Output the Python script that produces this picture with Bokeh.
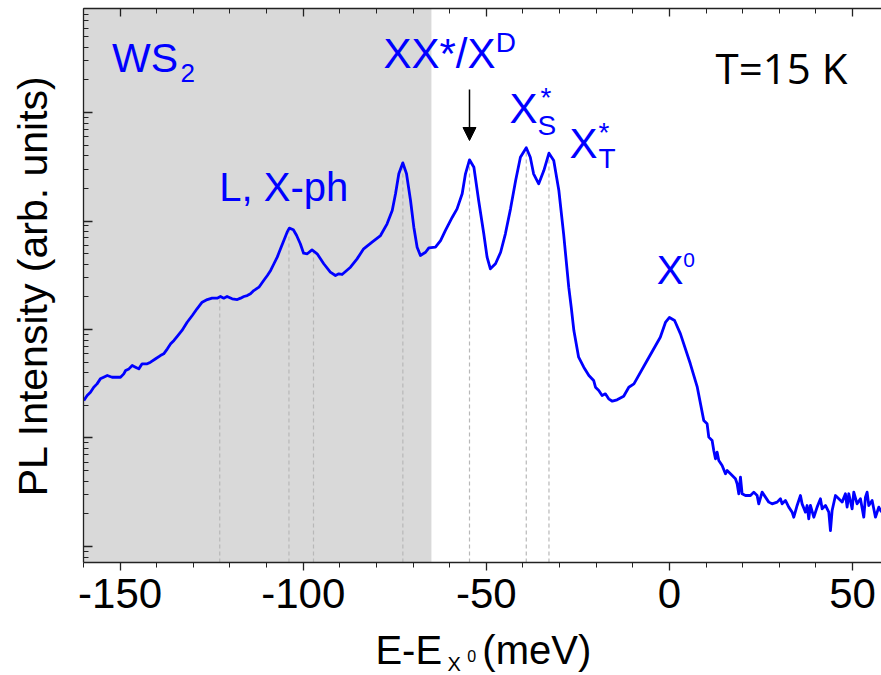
import numpy as np
from bokeh.plotting import figure
from bokeh.layouts import column
from bokeh.models import (Range1d, FixedTicker, LinearAxis, BoxAnnotation, Label,
                          Arrow, NormalHead)
from bokeh.core.properties import value
from bokeh.embed import file_html
from bokeh.resources import INLINE

# ---------------- data ----------------
# energy relative to the neutral exciton, meV
energy = [
    -159.9, -159.0, -158.1, -157.2, -156.3, -155.4, -154.5, -153.5, -152.2, -151.3,
    -149.9, -149.0, -148.5, -147.6, -146.7, -145.8, -144.9, -144.0, -142.6, -141.7,
    -140.3, -139.0, -138.1, -137.1, -136.2, -135.3, -134.4, -133.1, -131.7, -130.3,
    -129.0, -127.6, -126.2, -124.9, -123.5, -122.6, -121.7, -120.8, -119.4, -118.0,
    -117.1, -116.2, -115.3, -114.4, -113.5, -112.1, -110.8, -109.8, -108.9, -108.0,
    -107.1, -106.2, -105.3, -104.4, -103.8, -102.7, -101.8, -100.8, -99.9, -98.9,
    -97.6, -96.2, -94.4, -92.6, -91.2, -90.3, -89.4, -87.1, -85.3, -83.5,
    -81.2, -78.9, -77.1, -75.7, -74.8, -73.9, -72.8, -71.8, -70.7, -69.8,
    -68.9, -68.0, -66.6, -65.7, -63.9, -62.5, -61.2, -59.3, -58.0, -56.6,
    -55.7, -54.6, -53.4, -52.1, -50.7, -49.8, -48.9, -47.5, -46.1, -44.8,
    -43.4, -42.0, -40.7, -39.1, -38.0, -37.1, -35.7, -34.3, -32.9, -31.6,
    -30.2, -28.9, -27.5, -26.8, -26.1, -24.8, -23.4, -22.0, -20.7, -20.2,
    -19.3, -18.4, -17.5, -16.6, -15.6, -14.3, -12.5, -11.1, -9.7, -6.1,
    -2.5, -1.1, 0.0, 1.4, 3.0, 5.7, 7.6, 9.37, 10.28, 10.74,
    11.65, 12.1, 12.56, 13.02, 13.47, 14.38, 15.29, 15.75, 16.66, 18.02,
    18.48, 18.93, 19.39, 19.84, 20.75, 22.12, 23.03, 23.94, 24.39, 25.3,
    26.21, 27.12, 28.03, 29.4, 30.31, 30.76, 31.67, 32.58, 33.49, 33.95,
    34.86, 35.77, 36.22, 37.13, 37.59, 38.04, 38.5, 39.41, 40.32, 41.23,
    41.69, 42.6, 43.51, 43.96, 44.42, 45.33, 46.24, 47.15, 48.05, 48.51,
    48.97, 49.88, 50.33, 51.24, 52.15, 53.06, 53.52, 53.97, 54.43, 55.34,
    56.25, 57.16, 57.89,
]
# log10 of the PL intensity (arb. units)
log_intensity = [
    1.346, 1.392, 1.422, 1.468, 1.499, 1.545, 1.560, 1.576, 1.560, 1.560,
    1.560, 1.591, 1.622, 1.637, 1.668, 1.653, 1.637, 1.684, 1.684, 1.699,
    1.730, 1.760, 1.776, 1.822, 1.868, 1.899, 1.937, 1.991, 2.067, 2.129,
    2.191, 2.252, 2.276, 2.289, 2.289, 2.304, 2.289, 2.304, 2.283, 2.276,
    2.289, 2.304, 2.313, 2.329, 2.359, 2.390, 2.452, 2.498, 2.544, 2.606,
    2.667, 2.744, 2.820, 2.897, 2.934, 2.919, 2.866, 2.790, 2.703, 2.698,
    2.734, 2.698, 2.606, 2.529, 2.498, 2.513, 2.507, 2.574, 2.651, 2.744,
    2.805, 2.866, 2.974, 3.097, 3.251, 3.435, 3.536, 3.435, 3.189, 2.943,
    2.759, 2.682, 2.712, 2.753, 2.759, 2.820, 2.912, 3.035, 3.112, 3.251,
    3.435, 3.564, 3.496, 3.189, 2.882, 2.667, 2.559, 2.606, 2.712, 2.882,
    3.112, 3.373, 3.588, 3.675, 3.588, 3.435, 3.343, 3.465, 3.625, 3.558,
    3.281, 2.882, 2.390, 2.200, 1.990, 1.745, 1.653, 1.576, 1.530, 1.468,
    1.438, 1.392, 1.407, 1.361, 1.339, 1.352, 1.385, 1.468, 1.499, 1.714,
    1.929, 2.065, 2.111, 2.083, 1.960, 1.684, 1.468, 1.161, 1.131, 1.008,
    0.977, 0.885, 0.808, 0.869, 0.793, 0.747, 0.670, 0.700, 0.670, 0.624,
    0.578, 0.486, 0.639, 0.486, 0.470, 0.470, 0.501, 0.470, 0.393, 0.501,
    0.455, 0.409, 0.393, 0.409, 0.440, 0.393, 0.424, 0.363, 0.317, 0.270,
    0.378, 0.470, 0.393, 0.317, 0.378, 0.255, 0.378, 0.270, 0.363, 0.440,
    0.347, 0.378, 0.317, 0.147, 0.332, 0.470, 0.440, 0.409, 0.486, 0.363,
    0.486, 0.347, 0.501, 0.393, 0.440, 0.270, 0.455, 0.501, 0.378, 0.424,
    0.270, 0.363, 0.317,
]
peak_positions = [-122.8, -103.9, -97.2, -72.8, -54.6, -39.1, -32.9]
x_major_ticks = [-150, -100, -50, 0, 50]
x_minor_ticks = list(range(-160, 60, 10))
y_major_ticks = [1, 10, 100, 1000, 10000]
y_minor_ticks = [k * 10.0 ** d for d in range(-1, 5) for k in range(2, 10)]
shaded_region = [-160, -65]      # WS2 region (meV)
x_limits = [-160, 57.9]
y_limits = [0.712, 90900]

intensity = 10 ** np.array(log_intensity)
peak_tops = 10 ** np.interp(peak_positions, energy, log_intensity)

# ---------------- figure ----------------
FONT = "Liberation Sans"
BLUE = "#0000ff"
AX = "#222222"
# the svg text is set on its em-box middle: lift by (ascent - descent) / 2
LIFT = {"Liberation Sans": 0.3465, "Open Sans": 0.388}
MAIN_H = 626

p = figure(width=881, height=MAIN_H, title=None,
           x_range=Range1d(*x_limits), y_range=Range1d(*y_limits),
           y_axis_type="log", output_backend="svg", toolbar_location=None,
           min_border_left=83, min_border_right=0, min_border_top=8,
           min_border_bottom=MAIN_H - 562)
p.outline_line_color = None
p.grid.visible = False
p.background_fill_color = "white"
p.border_fill_color = "white"

# shaded WS2 region
p.add_layout(BoxAnnotation(left=shaded_region[0], right=shaded_region[1],
                           fill_color="#d9d9d9", fill_alpha=1.0,
                           line_color=None, level="underlay"))

# dashed markers at the peaks
p.segment(x0=peak_positions, y0=[y_limits[0]] * len(peak_positions),
          x1=peak_positions, y1=peak_tops,
          line_color="#b8b8b8", line_dash="4 3", line_width=1.2)

# spectrum
p.line(energy, intensity, line_color=BLUE, line_width=2.8, line_join="round")

# ---------------- axes ----------------
xa = p.xaxis[0]
xa.ticker = FixedTicker(ticks=x_major_ticks, minor_ticks=x_minor_ticks)
xa.major_label_overrides = {t: str(t) for t in x_major_ticks}
xa.major_tick_out = 8
xa.major_tick_in = 0
xa.minor_tick_out = 5
xa.minor_tick_in = 0
xa.major_label_text_font = FONT
xa.major_label_text_font_size = "42px"
xa.major_label_text_color = "black"
xa.major_label_standoff = 8
xa.axis_line_color = AX
xa.axis_line_width = 1.3
xa.major_tick_line_color = AX
xa.minor_tick_line_color = AX
xa.major_tick_line_width = 1.3
xa.minor_tick_line_width = 1.0

ya = p.yaxis[0]
ya.ticker = FixedTicker(ticks=y_major_ticks, minor_ticks=y_minor_ticks)
ya.major_label_overrides = {t: "" for t in y_major_ticks}
ya.major_label_text_font_size = "1px"
ya.major_label_standoff = 0
ya.major_tick_in = 9
ya.major_tick_out = 0
ya.minor_tick_in = 5
ya.minor_tick_out = 0
ya.axis_line_color = AX
ya.axis_line_width = 1.3
ya.major_tick_line_color = AX
ya.minor_tick_line_color = AX
ya.major_tick_line_width = 1.3
ya.minor_tick_line_width = 1.0
ya.axis_label = "PL Intensity (arb. units)"
ya.axis_label_text_font = FONT
ya.axis_label_text_font_size = "41px"
ya.axis_label_text_font_style = "normal"
ya.axis_label_text_color = "black"
ya.axis_label_standoff = 28

top = LinearAxis(ticker=FixedTicker(ticks=x_major_ticks, minor_ticks=x_minor_ticks))
top.major_label_overrides = {t: "" for t in x_major_ticks}
top.major_label_text_font_size = "1px"
top.major_label_standoff = 0
top.major_tick_in = 8
top.major_tick_out = 0
top.minor_tick_in = 5
top.minor_tick_out = 0
top.axis_line_color = AX
top.axis_line_width = 1.3
top.major_tick_line_color = AX
top.minor_tick_line_color = AX
top.major_tick_line_width = 1.3
p.add_layout(top, "above")

# ---------------- text inside the plot ----------------
def lab(text, x, y, size, color=BLUE, font=FONT):
    p.add_layout(Label(x=x, y=y, text=text, text_font=font,
                       text_font_size=f"{size}px", text_color=color,
                       text_baseline="alphabetic", text_align="left",
                       y_offset=LIFT[font] * size))

lab("WS", -152.2, 23390, 41)
lab("2", -133.5, 18900, 26)
lab("L, X-ph", -122.9, 1545, 40)
lab("XX*/X", -78.1, 25470, 42)
lab("D", -47.4, 35730, 28)
lab("X", -43.7, 7925, 42)
lab("S", -36.0, 6138, 28)
lab("*", -35.2, 11120, 28)
lab("X", -27.3, 3767, 42)
lab("T", -19.4, 3048, 28)
lab("*", -19.4, 5290, 28)
lab("X", -3.5, 265.5, 40)
lab("0", 3.8, 372.6, 21)
lab("T=15 K", 12.6, 18500, 42, color="black", font="Open Sans")

# arrow to XX*/X^D
arrow_x = [-54.6]
arrow_y = [16290, 5520]
p.add_layout(Arrow(end=NormalHead(size=13, fill_color="black", line_color="black"),
                   x_start=arrow_x[0], y_start=arrow_y[0],
                   x_end=arrow_x[0], y_end=arrow_y[1],
                   line_color="black", line_width=1.5))

# ---------------- x-axis title strip (sub/superscripts) ----------------
strip_h = 675 - MAIN_H
t = figure(width=881, height=strip_h, title=None, x_range=p.x_range,
           y_range=Range1d(0, strip_h), output_backend="svg",
           toolbar_location=None, x_axis_location=None, y_axis_location=None,
           min_border_left=83, min_border_right=0, min_border_top=0,
           min_border_bottom=0)
t.outline_line_color = None
t.grid.visible = False
t.background_fill_color = "white"
t.border_fill_color = "white"

title_parts = ["E-E", "X", "0", "(meV)"]
title_x = [-80.3, -60.6, -55.2, -51.1]
title_base = [12, 4.5, 14, 12]        # baseline, px above strip bottom
title_px = [40, 20, 16, 40]
title_y = [b + LIFT[FONT] * s for b, s in zip(title_base, title_px)]
t.text(x=title_x, y=title_y, text=title_parts, text_font=value(FONT),
       text_font_size=[f"{s}px" for s in title_px], text_color="black",
       text_baseline="alphabetic", text_align="left")

layout = column(p, t, spacing=0)
open("out.html", "w").write(file_html(layout, INLINE))
